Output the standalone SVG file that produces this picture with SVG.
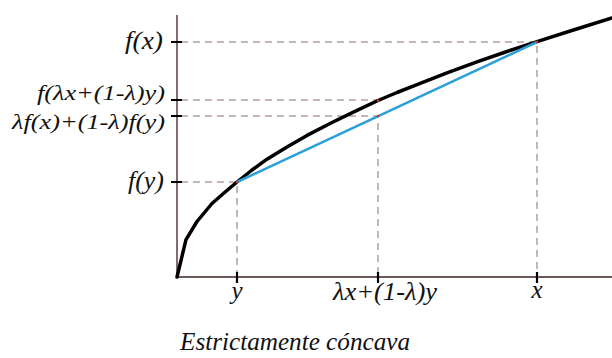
<svg xmlns="http://www.w3.org/2000/svg" width="612" height="358" viewBox="0 0 612 358">
<style>
.axis{stroke:#3a2320;stroke-width:1.3;fill:none}
.tick{stroke:#000;stroke-width:2.2}
.dash{stroke:#8a6e68;stroke-width:1;stroke-dasharray:7,5;fill:none}
.curve{stroke:#000;stroke-width:3.5;fill:none;stroke-linejoin:round;stroke-linecap:round}
.chord{stroke:#2b9fd8;stroke-width:2.5;fill:none}
.pt{fill:#e0302a}
text{font-family:"Liberation Serif","Times New Roman",serif;font-style:italic;font-size:25px;fill:#111}
.s{font-size:22px}
.m{text-anchor:middle}
</style>
<rect width="612" height="358" fill="#fff"/>
<g id="axes">
<path class="axis" d="M177,15 V277 H612"/>
</g>
<g id="connectors">
<path class="dash" d="M181,42 H537 V272"/>
<path class="dash" d="M181,100 H378"/>
<path class="dash" d="M181,116 H378 V272"/>
<path class="dash" d="M181,182 H237 V272"/>
</g>
<g id="ticks">
<path class="tick" d="M171,42 H182 M171,100 H182 M171,116 H182 M171,182 H182 M237,272 V283 M378,272 V283 M537,272 V283"/>
</g>
<g id="curve">
<polyline class="curve" points="177,277 186,239.7 197,221.5 212,203.5 224,193 237,182 252,170 267,159.2 287,147 307,135.4 332,122.5 357,110.4 378,100.5 397,92.5 417,84.6 447,72.8 477,61.9 507,51.5 537,41.6 575,29.5 612,18"/>
</g>
<g id="chord">
<line class="chord" x1="237" y1="182" x2="537" y2="42"/>
</g>
<g id="points">
<circle class="pt" cx="237" cy="182" r="1.3"/>
<circle class="pt" cx="378" cy="100.5" r="1.3"/>
<circle class="pt" cx="378" cy="116" r="1.3"/>
<circle class="pt" cx="537" cy="42" r="1.3"/>
</g>
<g id="labels">
<text x="125" y="49" textLength="38" lengthAdjust="spacingAndGlyphs">f(x)</text>
<text class="s" x="37" y="100" textLength="128" lengthAdjust="spacingAndGlyphs">f(λx+(1-λ)y)</text>
<text class="s" x="12" y="129" textLength="153" lengthAdjust="spacingAndGlyphs">λf(x)+(1-λ)f(y)</text>
<text x="128" y="189" textLength="36" lengthAdjust="spacingAndGlyphs">f(y)</text>
<text class="m" x="237" y="299">y</text>
<text x="333" y="300" textLength="104" lengthAdjust="spacingAndGlyphs">λx+(1-λ)y</text>
<text class="m" x="537" y="298">x</text>
<text x="180" y="350" textLength="230" lengthAdjust="spacingAndGlyphs">Estrictamente cóncava</text>
</g>
</svg>
